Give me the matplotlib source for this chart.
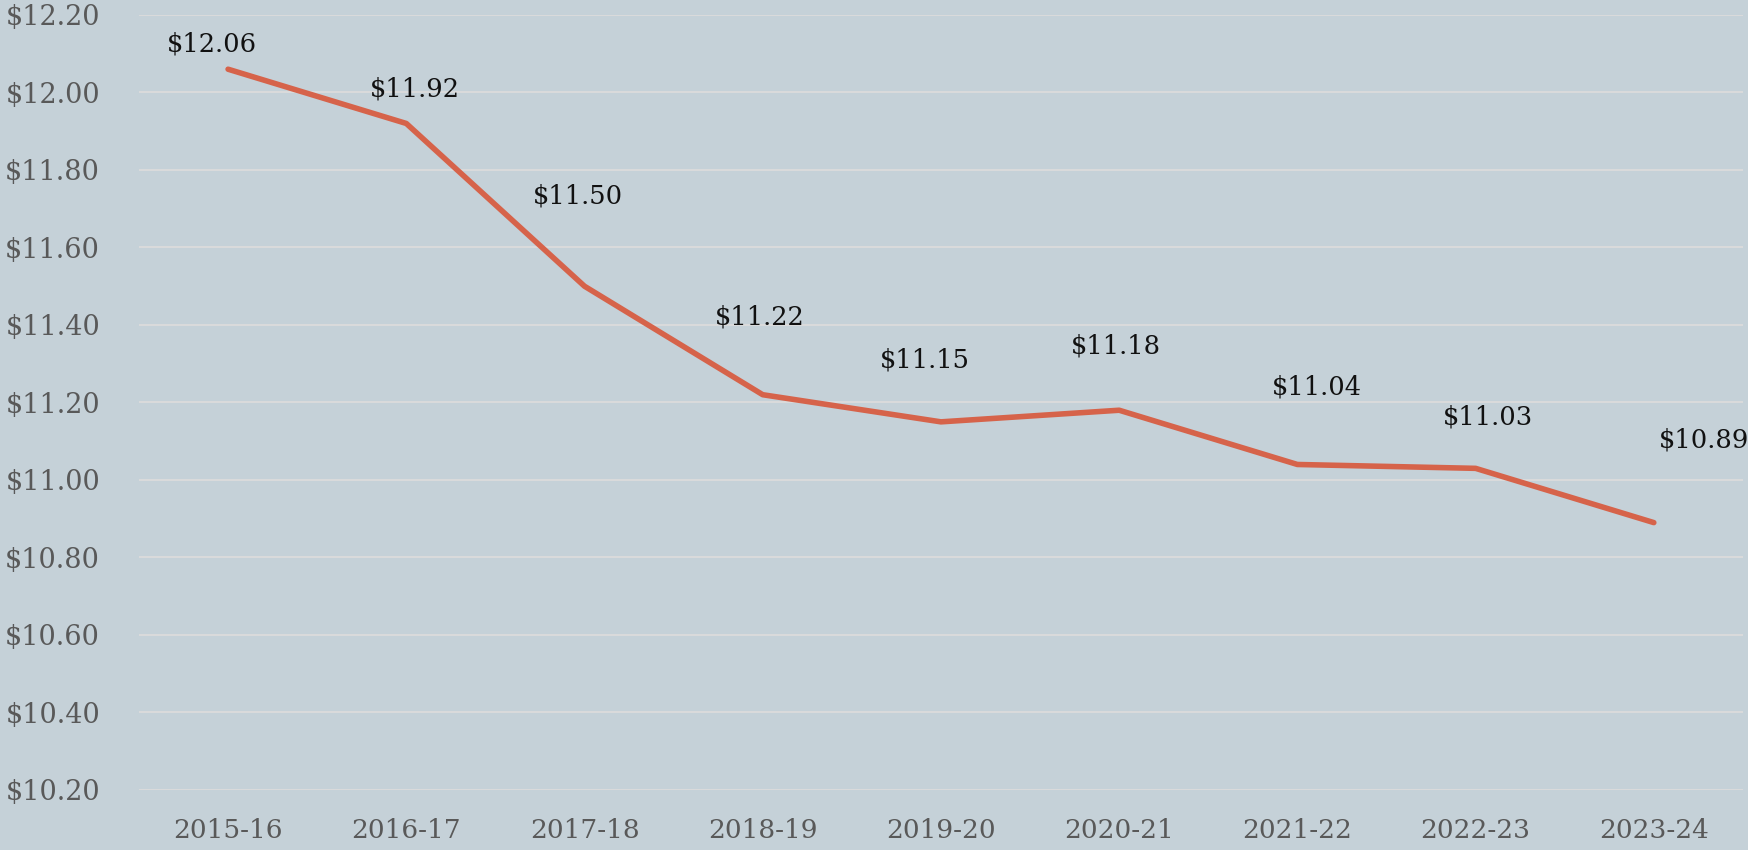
import numpy as np
import matplotlib.pyplot as plt

years = ['2015-16', '2016-17', '2017-18', '2018-19', '2019-20',
         '2020-21', '2021-22', '2022-23', '2023-24']
values = [12.06, 11.92, 11.50, 11.22, 11.15, 11.18, 11.04, 11.03, 10.89]

# label nudges in pixels (dx, dy) - labels were hand placed in the original
label_dx = [-16, 9, -7, -3, -16, -3, 19, 12, 50]
label_dy = [25, 34, 90, 78, 62, 64, 77, 51, 83]

bg = '#c5d1d8'
plt.rcParams['font.family'] = ['DejaVu Serif']

fig = plt.figure(figsize=(17.48, 8.5), dpi=100, facecolor=bg)
ax = fig.add_axes([0.0795, 0.0706, 0.9176, 0.9118])
ax.set_facecolor(bg)

x = np.arange(len(years))
ax.plot(x, values, color='#d6634a', lw=4, solid_capstyle='round', zorder=3)

for i, v in enumerate(values):
    ax.annotate('${:.2f}'.format(v), (x[i], v),
                xytext=(label_dx[i], label_dy[i]), textcoords='offset pixels',
                ha='center', va='center', fontsize=18.5, color='#111111',
                annotation_clip=False)

ax.set_xlim(-0.5, len(years) - 0.5)
ax.set_ylim(10.2, 12.2)
ax.set_yticks(np.arange(10.2, 12.21, 0.2))
ax.set_yticklabels(['${:.2f}'.format(t) for t in np.arange(10.2, 12.21, 0.2)])
ax.set_xticks(x)
ax.set_xticklabels(years)

ax.tick_params(axis='y', length=0, pad=28, labelsize=19.5, labelcolor='#595959')
ax.tick_params(axis='x', length=0, pad=20, labelsize=19, labelcolor='#595959')

ax.grid(axis='y', color='#dcdcdc', lw=1.3)
ax.set_axisbelow(True)
for s in ax.spines.values():
    s.set_visible(False)

fig.savefig('out.png', dpi=100, facecolor=bg)
